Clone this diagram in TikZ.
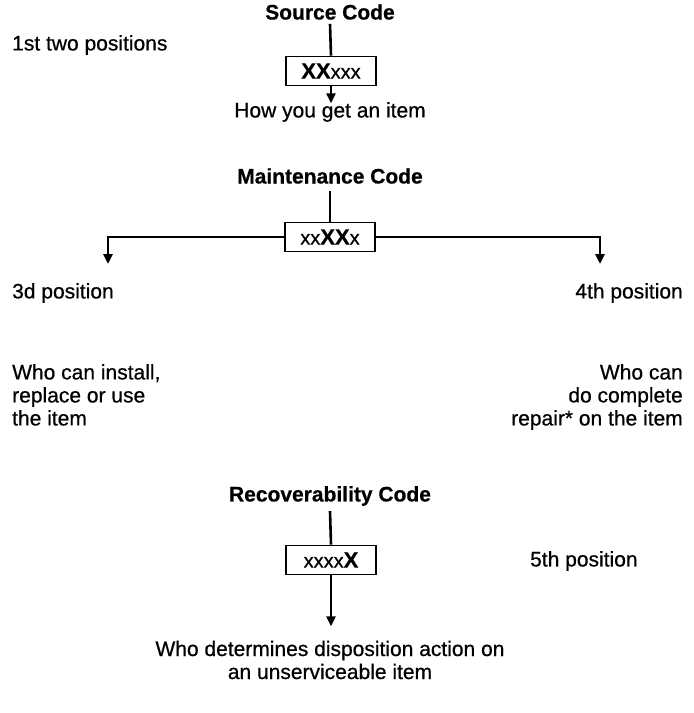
\documentclass[tikz,border=0pt]{standalone}
\usepackage{fontspec}
\setmainfont[FakeBold=0.6]{Liberation Sans}
\usetikzlibrary{arrows.meta}
\begin{document}
\begin{tikzpicture}[x=1pt,y=-1pt,
  txt/.style={font=\fontsize{21}{24}\selectfont, inner sep=0pt},
  head/.style={font=\fontsize{21}{24}\selectfont\bfseries, inner sep=0pt},
  codebox/.style={draw, line width=1.6pt, minimum width=90pt, minimum height=29pt, inner sep=0pt, font=\fontsize{20}{24}\selectfont},
  link/.style={line width=2.6pt},
  arr/.style={line width=2.6pt, -{Triangle[length=10pt,width=9pt]}}]
\useasboundingbox (0,0) rectangle (694,713);
% Source code
\node[head] (sch) at (330,12) {Source Code};
\node[codebox] (sbox) at (331,71) {\textbf{\fontsize{22}{24}\selectfont XX}xxx};
\node[txt, anchor=west] (s12) at (12,45) {1st two positions};
\node[txt] (show) at (330,112) {How you get an item};
\draw[link] (sch.south) ++(0,4) coordinate (sct) -- (sbox.north);
\draw[arr] (sbox.south) -- ++(0,17) coordinate (sarr);
% Maintenance code
\node[head] (mch) at (330,176) {Maintenance Code};
\node[codebox] (mbox) at (330,237) {xx\textbf{\fontsize{22}{24}\selectfont XX}x};
\draw[link] (330,191) coordinate (mct) -- (mbox.north);
\coordinate (ml) at (108,237);
\coordinate (mr) at (600,237);
\coordinate (mla) at (108,264);
\coordinate (mra) at (600,264);
\draw[arr] (mbox.west) -- (ml) -- (mla);
\draw[arr] (mbox.east) -- (mr) -- (mra);
\node[txt, anchor=west] (m3) at (12,293) {3d position};
\node[txt, anchor=east] (m4) at (683,293) {4th position};
\node[txt, anchor=north west, align=left, font=\fontsize{21}{23}\selectfont] (mwl) at (12,364) {Who can install,\\replace or use\\the item};
\node[txt, anchor=north east, align=right, font=\fontsize{21}{23}\selectfont] (mwr) at (683,364) {Who can\\do complete\\repair* on the item};
% Recoverability code
\node[head] (rch) at (330,496) {Recoverability Code};
\node[codebox] (rbox) at (331,560) {xxxx\textbf{\fontsize{22}{24}\selectfont X}};
\draw[link] (330,511) coordinate (rct) -- (rbox.north);
\draw[arr] (rbox.south) -- ++(0,51) coordinate (rarr);
\node[txt, anchor=west] (r5) at (530,561) {5th position};
\node[txt, align=center, font=\fontsize{21}{23}\selectfont] (rwho) at (330,660) {Who determines disposition action on\\an unserviceable item};
\end{tikzpicture}
\end{document}
